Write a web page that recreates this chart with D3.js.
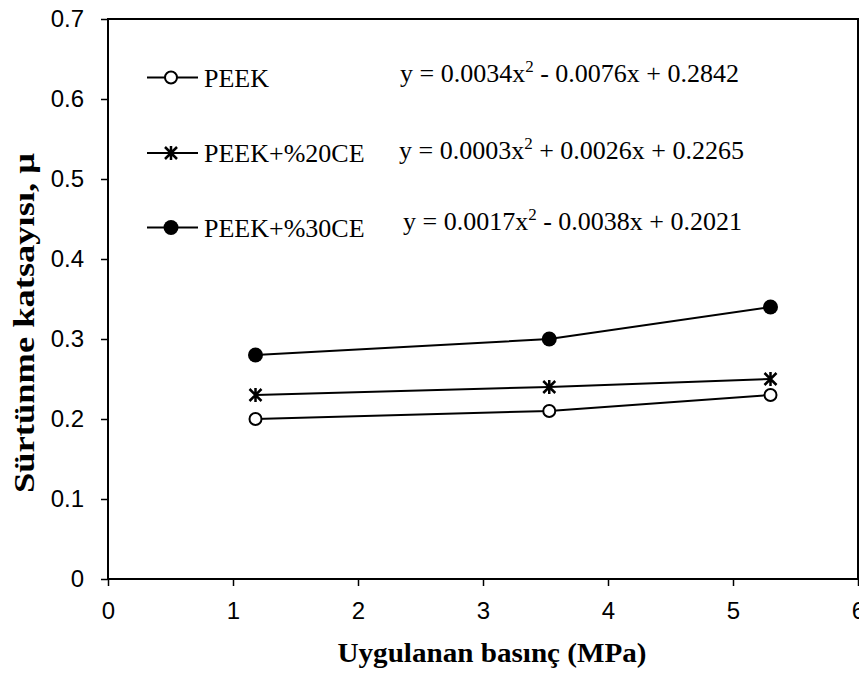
<!DOCTYPE html>
<html>
<head>
<meta charset="utf-8">
<script src="https://cdn.jsdelivr.net/npm/d3@7.9.0/dist/d3.min.js"></script>
<style>
  body { margin: 0; background: #fff; }
  svg { display: block; }
</style>
</head>
<body>
<svg id="chart" width="859" height="673"></svg>
<script>
// data
const pressure = [1.18, 3.53, 5.30];
const peek = [0.20, 0.21, 0.23];
const peek20ce = [0.23, 0.24, 0.25];
const peek30ce = [0.28, 0.30, 0.34];
const seriesNames = ['PEEK', 'PEEK+%20CE', 'PEEK+%30CE'];
const markerTypes = ['open', 'star', 'filled'];
const equations = [
  ['y = 0.0034x', '2', '- 0.0076x + 0.2842'],
  ['y = 0.0003x', '2', '+ 0.0026x + 0.2265'],
  ['y = 0.0017x', '2', '- 0.0038x + 0.2021']
];
const xTicks = [0, 1, 2, 3, 4, 5, 6];
const yTicks = [0, 0.1, 0.2, 0.3, 0.4, 0.5, 0.6, 0.7];

const svg = d3.select('#chart');
const m = { left: 108, top: 19, right: 858, bottom: 579 };

const x = d3.scaleLinear().domain([0, 6]).range([m.left, m.right]);
const y = d3.scaleLinear().domain([0, 0.7]).range([m.bottom, m.top]);

const serif = '"Times New Roman", "Liberation Serif", serif';
const sans = 'Arial, "Liberation Sans", sans-serif';

// === axes ===
const xAxis = svg.append('g')
  .attr('transform', `translate(0,${m.bottom})`)
  .call(d3.axisBottom(x).tickValues(xTicks).tickFormat(d3.format('d')).tickSize(7).tickPadding(16));
const yAxis = svg.append('g')
  .attr('transform', `translate(${m.left},0)`)
  .call(d3.axisLeft(y).tickValues(yTicks).tickFormat(d => d === 0 ? '0' : d3.format('.1f')(d)).tickSize(7).tickPadding(17));

[xAxis, yAxis].forEach(g => {
  g.select('.domain').remove();
  g.selectAll('line').attr('stroke', '#000').attr('stroke-width', 1.5);
  g.selectAll('text').attr('font-family', sans).attr('font-size', 24).attr('fill', '#000');
});

// plot frame
svg.append('rect')
  .attr('x', m.left).attr('y', m.top)
  .attr('width', m.right - m.left).attr('height', m.bottom - m.top)
  .attr('fill', 'none').attr('stroke', '#000').attr('stroke-width', 2);

// === axis titles ===
svg.append('text')
  .attr('x', 492).attr('y', 662)
  .attr('text-anchor', 'middle')
  .attr('font-family', serif).attr('font-weight', 'bold').attr('font-size', 28)
  .attr('textLength', 309).attr('lengthAdjust', 'spacingAndGlyphs')
  .text('Uygulanan basınç (MPa)');

svg.append('text')
  .attr('transform', 'translate(34,323) rotate(-90)')
  .attr('text-anchor', 'middle')
  .attr('font-family', serif).attr('font-weight', 'bold').attr('font-size', 30)
  .attr('textLength', 340).attr('lengthAdjust', 'spacingAndGlyphs')
  .text('Sürtünme katsayısı, μ');

// === markers ===
function drawMarker(g, type, cx, cy) {
  if (type === 'open') {
    g.append('circle').attr('cx', cx).attr('cy', cy).attr('r', 6)
      .attr('fill', '#fff').attr('stroke', '#000').attr('stroke-width', 2);
  } else if (type === 'filled') {
    g.append('circle').attr('cx', cx).attr('cy', cy).attr('r', 7.5).attr('fill', '#000');
  } else {
    const s = 6;
    g.append('path')
      .attr('d', `M${cx - s},${cy - s}L${cx + s},${cy + s}M${cx - s},${cy + s}L${cx + s},${cy - s}M${cx},${cy - s - 1}L${cx},${cy + s + 1}`)
      .attr('stroke', '#000').attr('stroke-width', 2.5).attr('fill', 'none');
  }
}

// === series ===
const allSeries = [peek, peek20ce, peek30ce];
const line = d3.line().x(d => x(d[0])).y(d => y(d[1]));

allSeries.forEach((vals, i) => {
  const pts = pressure.map((p, j) => [p, vals[j]]);
  const g = svg.append('g');
  g.append('path').datum(pts)
    .attr('d', line)
    .attr('fill', 'none').attr('stroke', '#000').attr('stroke-width', 2);
  pts.forEach(p => drawMarker(g, markerTypes[i], x(p[0]), y(p[1])));
});

// === legend ===
const legendRows = [77.5, 153, 227.5];
const eqBase = [82, 159, 230];
const eqX = [400, 399, 403];
seriesNames.forEach((name, i) => {
  const ly = legendRows[i];
  const g = svg.append('g');
  g.append('line').attr('x1', 147).attr('x2', 198).attr('y1', ly).attr('y2', ly)
    .attr('stroke', '#000').attr('stroke-width', 2);
  drawMarker(g, markerTypes[i], 171, ly);
  g.append('text').attr('x', 204).attr('y', ly + 9)
    .attr('font-family', serif).attr('font-size', 26)
    .text(name);

  const eq = equations[i];
  const t = svg.append('text').attr('x', eqX[i]).attr('y', eqBase[i])
    .attr('font-family', serif).attr('font-size', 26);
  t.append('tspan').text(eq[0]);
  t.append('tspan').attr('font-size', 17).attr('dy', -10).text(eq[1]);
  t.append('tspan').attr('dy', 10).text(' ' + eq[2]);
});
</script>
</body>
</html>
